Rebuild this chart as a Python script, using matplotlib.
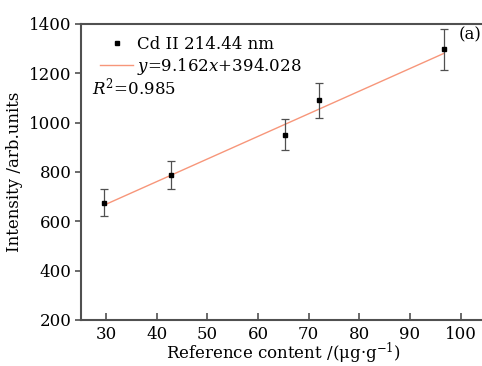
import numpy as np
import matplotlib.pyplot as plt
from matplotlib.lines import Line2D

# Cd II 214.44 nm calibration: reference content vs. line intensity
content = [29.7, 42.9, 65.4, 72.0, 96.7]
intensity = [675, 787, 951, 1090, 1296]
err = [55, 57, 64, 71, 82]

slope, intercept = 9.162, 394.028
r2 = 0.985

xticks = [30, 40, 50, 60, 70, 80, 90, 100]
yticks = [200, 400, 600, 800, 1000, 1200, 1400]

plt.rcParams['font.family'] = ['DejaVu Serif']
plt.rcParams['mathtext.fontset'] = 'dejavuserif'
plt.rcParams['font.size'] = 12

fig = plt.figure(figsize=(4.82, 3.66), dpi=100)
ax = fig.add_axes([0.168, 0.1257, 0.840, 0.8093])

spine_col = '#505050'
line_col = '#f7967a'

fit_x = np.array([min(content), max(content)])
ax.plot(fit_x, slope * fit_x + intercept, color=line_col, lw=1.0, zorder=2)
ax.errorbar(content, intensity, yerr=err, fmt='none', ecolor='#505050',
            elinewidth=0.9, capsize=2.6, capthick=0.9, zorder=3)
ax.plot(content, intensity, 's', color='black', ms=3.5, zorder=4)

ax.set_xlim(25.06, 105)
ax.set_ylim(200, 1400)
ax.set_xticks(xticks)
ax.set_yticks(yticks)

for side in ['left', 'bottom', 'top']:
    ax.spines[side].set_color(spine_col)
    ax.spines[side].set_linewidth(1.5)
ax.spines['right'].set_visible(False)

ax.tick_params(axis='x', direction='in', length=5, width=1.2, color=spine_col, pad=4)
ax.tick_params(axis='y', direction='out', length=4, width=1.2, color=spine_col, pad=3)

ax.set_xlabel(r'Reference content /(μg·g$^{-1}$)', labelpad=-1)
ax.set_ylabel('Intensity /arb.units', labelpad=4)

handles = [
    Line2D([], [], ls='none', marker='s', color='black', ms=3.5),
    Line2D([], [], color=line_col, lw=1.0),
]
labels = ['Cd II 214.44 nm', r'$y$=9.162$x$+394.028']
ax.legend(handles, labels, loc='upper left', bbox_to_anchor=(0.047, 0.958),
          frameon=False, handlelength=2.0, handletextpad=0.2,
          labelspacing=0.15, borderaxespad=0.0, borderpad=0.0)
ax.text(0.027, 0.785, r'$R^2$=0.985', transform=ax.transAxes, va='center', ha='left')

fig.text(0.951, 0.905, '(a)', ha='left', va='center')

fig.savefig('out.png', dpi=100)
